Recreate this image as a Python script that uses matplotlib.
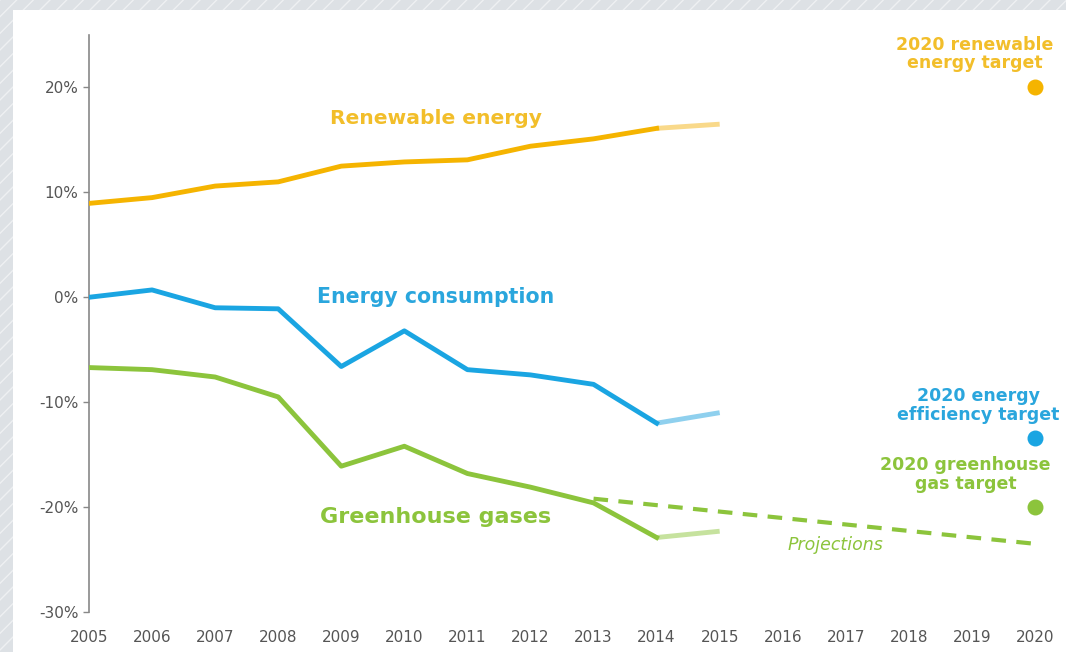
import matplotlib
matplotlib.use("Agg")
import matplotlib.pyplot as plt
from matplotlib.patches import Rectangle

years = list(range(2005, 2016))
renewable = [8.95, 9.5, 10.6, 11.0, 12.5, 12.9, 13.1, 14.4, 15.1, 16.1, 16.5]
consumption = [0.0, 0.7, -1.0, -1.1, -6.6, -3.2, -6.9, -7.4, -8.3, -12.0, -11.0]
greenhouse = [-6.7, -6.9, -7.6, -9.5, -16.1, -14.2, -16.8, -18.1, -19.6, -22.9, -22.3]
proj_years = [2013, 2020]
proj_values = [-19.2, -23.5]
target_year = 2020
targets = {'renewable': 20.0, 'consumption': -13.4, 'greenhouse': -20.0}

yellow, yellow_l = '#F5B400', '#F9D98A'
blue, blue_l = '#1AA5E2', '#8FD0EE'
green, green_l = '#8CC43C', '#C6E29E'

W, H = 1066, 652
fig = plt.figure(figsize=(W / 100, H / 100), dpi=100)
fig.patch.set_facecolor('#dde1e5')
fig.patches.append(Rectangle((0, 0), 1, 1, transform=fig.transFigure, facecolor='none',
                             edgecolor='#eef0f2', hatch='//', linewidth=0, zorder=-2))
fig.patches.append(Rectangle((13 / W, 0), 1, (H - 10) / H, transform=fig.transFigure,
                             facecolor='white', edgecolor='none', zorder=-1))

ax = fig.add_axes([89 / W, (H - 612) / H, (1035 - 89) / W, (612 - 35) / H])
ax.set_facecolor('none')
ax.set_xlim(2005, 2020)
ax.set_ylim(-30, 25)

# solid history up to 2014, lighter estimate 2014-2015
for vals, c, cl in [(renewable, yellow, yellow_l), (consumption, blue, blue_l), (greenhouse, green, green_l)]:
    ax.plot(years[:10], vals[:10], color=c, lw=3.5, solid_joinstyle='round', zorder=3)
    ax.plot(years[9:], vals[9:], color=cl, lw=3.5, solid_capstyle='butt', zorder=2)

ax.plot(proj_years, proj_values, color=green, lw=3, dashes=(3.5, 2.5), zorder=2)

ax.scatter([target_year], [targets['renewable']], s=110, color=yellow, clip_on=False, zorder=4)
ax.scatter([target_year], [targets['consumption']], s=110, color=blue, clip_on=False, zorder=4)
ax.scatter([target_year], [targets['greenhouse']], s=110, color=green, clip_on=False, zorder=4)

ax.text(2010.5, 17, 'Renewable energy', color='#F2BE2A', fontsize=14.6, fontweight='bold', ha='center', va='center')
ax.text(2010.5, 0, 'Energy consumption', color='#2AA6DD', fontsize=14.8, fontweight='bold', ha='center', va='center')
ax.text(2010.5, -20.9, 'Greenhouse gases', color='#8CC43C', fontsize=16, fontweight='bold', ha='center', va='center')
ax.text(2016.83, -23.6, 'Projections', color='#8CC43C', fontsize=12.5, style='italic', ha='center', va='center')

ax.text(2019.05, 23.2, '2020 renewable\nenergy target', color='#F2BE2A', fontsize=12.5, fontweight='bold',
        ha='center', va='center', linespacing=1.05, clip_on=False)
ax.text(2019.1, -10.3, '2020 energy\nefficiency target', color='#2AA6DD', fontsize=12.5, fontweight='bold',
        ha='center', va='center', linespacing=1.05, clip_on=False)
ax.text(2018.9, -16.9, '2020 greenhouse\ngas target', color='#8CC43C', fontsize=12.5, fontweight='bold',
        ha='center', va='center', linespacing=1.05, clip_on=False)

for s in ['top', 'right', 'bottom']:
    ax.spines[s].set_visible(False)
ax.spines['left'].set_color('#888888')
ax.spines['left'].set_linewidth(1.2)

ax.set_yticks([20, 10, 0, -10, -20, -30])
ax.set_yticklabels(['20%', '10%', '0%', '-10%', '-20%', '-30%'])
ax.set_xticks(range(2005, 2021))
ax.tick_params(axis='y', colors='#888888', labelcolor='#555555', labelsize=11, length=4, width=1)
ax.tick_params(axis='x', length=0, labelcolor='#555555', labelsize=11, pad=13)

fig.savefig('out.png', dpi=100, facecolor=fig.get_facecolor())
